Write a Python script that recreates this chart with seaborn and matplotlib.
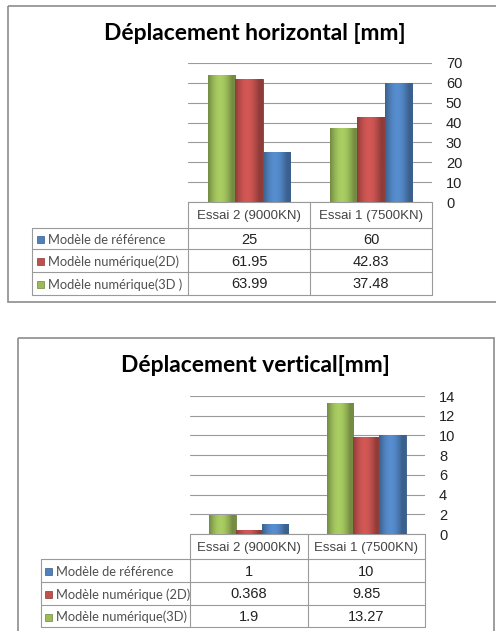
import numpy as np
import pandas as pd
import matplotlib
matplotlib.use("Agg")
import matplotlib.pyplot as plt
import matplotlib.colors as mcolors
from matplotlib.patches import Rectangle
import seaborn as sns

# --- Data ---
categories = ["Essai 2 (9000KN)", "Essai 1 (7500KN)"]
series = ["3D", "2D", "ref"]  # bar order inside each group

horiz_ref = [25, 60]
horiz_2d = [61.95, 42.83]
horiz_3d = [63.99, 37.48]

vert_ref = [1, 10]
vert_2d = [0.368, 9.85]
vert_3d = [1.9, 13.27]

labels_top = {"ref": "Modèle de référence", "2D": "Modèle numérique(2D)", "3D": "Modèle numérique(3D )"}
labels_bot = {"ref": "Modèle de référence", "2D": "Modèle numérique (2D)", "3D": "Modèle numérique(3D)"}

titles = ["Déplacement horizontal [mm]", "Déplacement vertical[mm]"]
yticks_top = [0, 10, 20, 30, 40, 50, 60, 70]
yticks_bot = [0, 2, 4, 6, 8, 10, 12, 14]

COLORS = {"3D": "#9BBB59", "2D": "#C0504D", "ref": "#4F81BD"}
GRID = "#9A9A9A"

W, H = 496, 631
sns.set_theme(style="white")
plt.rcParams["font.family"] = ["Liberation Sans", "DejaVu Sans"]

fig = plt.figure(figsize=(W / 100, H / 100), dpi=100)
fig.patch.set_facecolor("white")


def px(x, y, w, h):
    return [x / W, 1 - (y + h) / H, w / W, h / H]


# overlay in pixel coordinates for frames / tables
ov = fig.add_axes([0, 0, 1, 1], zorder=0)
ov.set_xlim(0, W)
ov.set_ylim(H, 0)
ov.axis("off")


def shade_bars(ax):
    # fake the Excel bevel with a horizontal gradient clipped to each bar
    for p in ax.patches:
        x0, y0 = p.get_x(), p.get_y()
        w, h = p.get_width(), p.get_height()
        if h <= 0:
            continue
        base = np.array(mcolors.to_rgb(p.get_facecolor()))
        t = np.linspace(0, 1, 40)
        k = 0.75 + 0.35 * np.sin(np.pi * np.clip(t * 1.15, 0, 1))
        k = np.clip(k, 0, 1.12)
        cols = np.clip(base[None, :] * k[:, None], 0, 1)
        img = cols[None, :, :]
        im = ax.imshow(img, extent=[x0, x0 + w, y0, y0 + h], aspect="auto",
                       zorder=p.get_zorder() + 0.1, interpolation="bilinear")
        im.set_clip_path(p)
        p.set_edgecolor(base * 0.7)
        p.set_linewidth(0.6)


def draw_panel(frame, plot_box, ylim, yticks, vals, row_labels, title, title_y,
               table_rows, left_x, key_x, text_x):
    fx0, fy0, fx1, fy1 = frame
    ov.add_patch(Rectangle((fx0, fy0), fx1 - fx0, fy1 - fy0, fill=False,
                           edgecolor="#8C8C8C", linewidth=1.2))
    x0, y0, x1, y1 = plot_box
    ov.text(255, title_y, title, ha="center", va="center", fontsize=16.5,
            fontweight="bold", family=["Lato", "DejaVu Sans"], color="black")

    df = pd.DataFrame({
        "cat": np.repeat(categories, len(series)),
        "serie": series * len(categories),
        "val": [vals[s][i] for i in range(len(categories)) for s in series],
    })
    ax = fig.add_axes(px(x0, y0, x1 - x0, y1 - y0), zorder=2)
    ax.set_facecolor("none")
    sns.barplot(data=df, x="cat", y="val", hue="serie", hue_order=series,
                palette=COLORS, width=0.67, gap=0, ax=ax, legend=False,
                zorder=3, saturation=1)
    shade_bars(ax)
    ax.set_xlim(-0.5, 1.5)
    ax.set_ylim(*ylim)
    ax.set_yticks(yticks)
    ax.yaxis.tick_right()
    ax.tick_params(axis="y", length=0, pad=10, labelsize=10.5, labelcolor="#222222")
    ax.set_xticks([])
    ax.set_xlabel("")
    ax.set_ylabel("")
    ax.grid(axis="y", color=GRID, linewidth=0.8)
    ax.set_axisbelow(True)
    for s in ax.spines.values():
        s.set_visible(False)

    # data table under the plot
    colx = [x0, (x0 + x1) / 2, x1]
    ys = table_rows
    ov.plot([x0, x1], [ys[0], ys[0]], color=GRID, lw=0.8)
    for xx in colx:
        ov.plot([xx, xx], [ys[0], ys[-1]], color=GRID, lw=0.8)
    ov.plot([left_x, left_x], [ys[1], ys[-1]], color=GRID, lw=0.8)
    for yy in ys[1:]:
        ov.plot([left_x, x1], [yy, yy], color=GRID, lw=0.8)
    for j, c in enumerate(categories):
        ov.text((colx[j] + colx[j + 1]) / 2, (ys[0] + ys[1]) / 2 + 1, c,
                ha="center", va="center", fontsize=9.5, color="#444444")
    for r, s in enumerate(["ref", "2D", "3D"]):
        yc = (ys[r + 1] + ys[r + 2]) / 2 + 1
        ov.add_patch(Rectangle((key_x, yc - 3.5), 7, 7, facecolor=COLORS[s],
                               edgecolor=mcolors.to_rgb(COLORS[s]) * np.array(0.7), lw=0.5))
        ov.text(text_x, yc, row_labels[s], ha="left", va="center", fontsize=9.3,
                family=["Lato", "DejaVu Sans"], color="#505050")
        for j in range(len(categories)):
            ov.text((colx[j] + colx[j + 1]) / 2, yc, f"{vals[s][j]:g}",
                    ha="center", va="center", fontsize=10.5, color="#222222")


draw_panel(frame=(8, 6, 510, 302), plot_box=(188, 63, 432, 202), ylim=(0, 70),
           yticks=yticks_top, vals={"ref": horiz_ref, "2D": horiz_2d, "3D": horiz_3d},
           row_labels=labels_top, title=titles[0], title_y=33,
           table_rows=[202, 228, 249, 272, 295], left_x=32, key_x=37, text_x=48)

draw_panel(frame=(18, 338, 494, 640), plot_box=(190, 396, 425, 534), ylim=(0, 14),
           yticks=yticks_bot, vals={"ref": vert_ref, "2D": vert_2d, "3D": vert_3d},
           row_labels=labels_bot, title=titles[1], title_y=365,
           table_rows=[534, 559, 582, 605, 627], left_x=41, key_x=45, text_x=56)

fig.savefig("out.png", dpi=100, facecolor="white")
